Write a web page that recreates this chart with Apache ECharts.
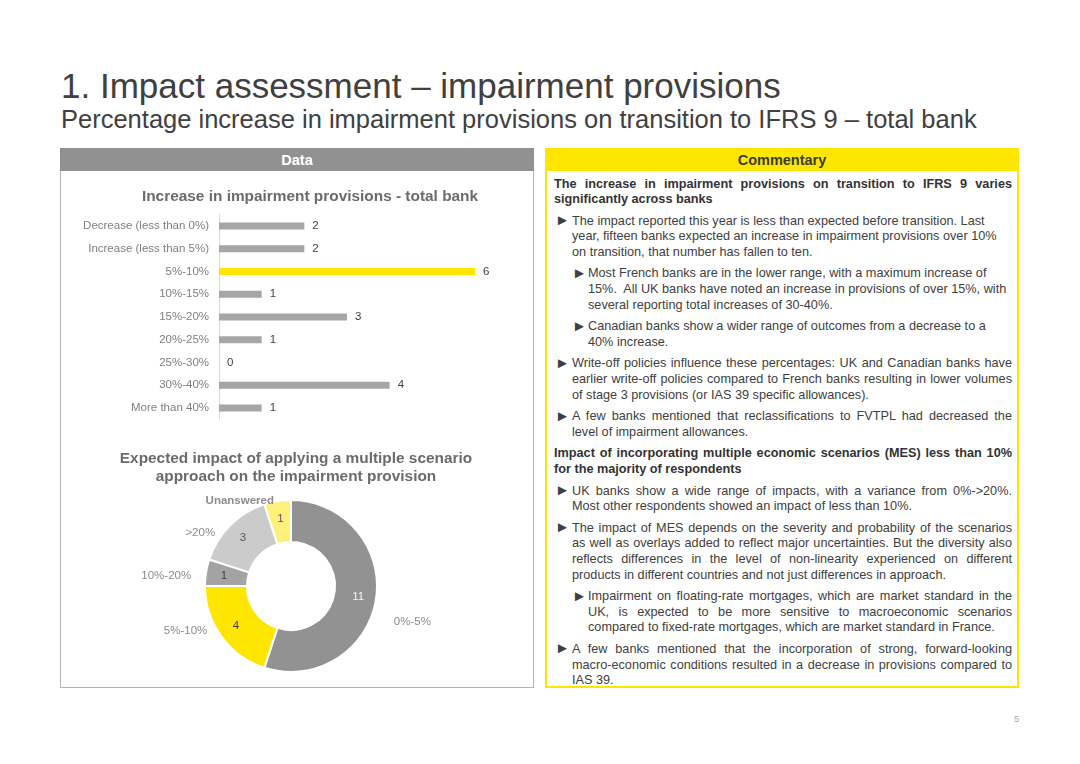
<!DOCTYPE html>
<html>
<head>
<meta charset="utf-8">
<script src="https://cdn.jsdelivr.net/npm/echarts@6/dist/echarts.min.js"></script>
<style>
  html, body { margin:0; padding:0; background:#fff; }
  body { width:1080px; height:764px; position:relative; overflow:hidden;
         font-family:'Liberation Sans', Arial, Helvetica, sans-serif; }
  .abs { position:absolute; }
  #title { left:61px; top:66px; font-size:35px; line-height:40px; color:#404040; white-space:nowrap; }
  #subtitle { left:61px; top:104px; font-size:25.5px; line-height:30px; color:#404040; white-space:nowrap; }
  #leftPanel { left:60px; top:148px; width:472px; height:539px; border:1px solid #b3b3b3; border-top:none; }
  #leftHead { left:60px; top:148px; width:474px; height:23px; background:#919191; color:#fff;
              font-weight:bold; font-size:14.5px; line-height:25px; text-align:center; }
  #rightPanel { left:545px; top:148px; width:470px; height:536px; border:2px solid #ffe600; }
  #rightHead { left:545px; top:148px; width:474px; height:23px; background:#ffe600; color:#3c3c3c;
               font-weight:bold; font-size:14.5px; line-height:25px; text-align:center; }
  #comm { left:554px; top:176.5px; width:458px; font-size:12.7px; line-height:15.6px; color:#404040; }
  #comm .p { position:relative; margin-top:6px; }
  #comm .p:first-child { margin-top:0; }
  #comm .h { font-weight:bold; color:#333; }
  #comm .b1 { padding-left:18px; }
  #comm .b2 { padding-left:34px; }
  #comm .bul { position:absolute; top:-1.5px; font-size:15px; line-height:15.6px; color:#404040; }
  #comm .b1 .bul { left:1px; }
  #comm .b2 .bul { left:18px; }
  #comm .j { display:block; text-align:justify; text-align-last:justify; }
  #comm .l { display:block; text-align:left; white-space:nowrap; }
  #pageNo { left:1014px; top:714px; font-size:9px; color:#a6a6a6; }
  #chart { position:absolute; left:0; top:0; width:1080px; height:764px; }
</style>
</head>
<body>
<div id="title" class="abs">1. Impact assessment – impairment provisions</div>
<div id="subtitle" class="abs">Percentage increase in impairment provisions on transition to IFRS 9 – total bank</div>

<div id="leftPanel" class="abs"></div>
<div id="leftHead" class="abs">Data</div>

<div id="rightPanel" class="abs"></div>
<div id="rightHead" class="abs">Commentary</div>

<div id="comm" class="abs">
  <div class="p h">
    <span class="j">The increase in impairment provisions on transition to IFRS 9 varies</span>
    <span class="l">significantly across banks</span>
  </div>
  <div class="p b1"><span class="bul">►</span>
    <span class="l">The impact reported this year is less than expected before transition. Last</span>
    <span class="l">year, fifteen banks expected an increase in impairment provisions over 10%</span>
    <span class="l">on transition, that number has fallen to ten.</span>
  </div>
  <div class="p b2"><span class="bul">►</span>
    <span class="l">Most French banks are in the lower range, with a maximum increase of</span>
    <span class="l">15%.&nbsp; All UK banks have noted an increase in provisions of over 15%, with</span>
    <span class="l">several reporting total increases of 30-40%.</span>
  </div>
  <div class="p b2"><span class="bul">►</span>
    <span class="l">Canadian banks show a wider range of outcomes from a decrease to a</span>
    <span class="l">40% increase.</span>
  </div>
  <div class="p b1"><span class="bul">►</span>
    <span class="j">Write-off policies influence these percentages: UK and Canadian banks have</span>
    <span class="j">earlier write-off policies compared to French banks resulting in lower volumes</span>
    <span class="l">of stage 3 provisions (or IAS 39 specific allowances).</span>
  </div>
  <div class="p b1"><span class="bul">►</span>
    <span class="j">A few banks mentioned that reclassifications to FVTPL had decreased the</span>
    <span class="l">level of impairment allowances.</span>
  </div>
  <div class="p h">
    <span class="j">Impact of incorporating multiple economic scenarios (MES) less than 10%</span>
    <span class="l">for the majority of respondents</span>
  </div>
  <div class="p b1"><span class="bul">►</span>
    <span class="j">UK banks show a wide range of impacts, with a variance from 0%-&gt;20%.</span>
    <span class="l">Most other respondents showed an impact of less than 10%.</span>
  </div>
  <div class="p b1"><span class="bul">►</span>
    <span class="j">The impact of MES depends on the severity and probability of the scenarios</span>
    <span class="j">as well as overlays added to reflect major uncertainties. But the diversity also</span>
    <span class="j">reflects differences in the level of non-linearity experienced on different</span>
    <span class="l">products in different countries and not just differences in approach.</span>
  </div>
  <div class="p b2"><span class="bul">►</span>
    <span class="j">Impairment on floating-rate mortgages, which are market standard in the</span>
    <span class="j">UK, is expected to be more sensitive to macroeconomic scenarios</span>
    <span class="l">compared to fixed-rate mortgages, which are market standard in France.</span>
  </div>
  <div class="p b1"><span class="bul">►</span>
    <span class="j">A few banks mentioned that the incorporation of strong, forward-looking</span>
    <span class="j">macro-economic conditions resulted in a decrease in provisions compared to</span>
    <span class="l">IAS 39.</span>
  </div>
</div>

<div id="pageNo" class="abs">5</div>
<div id="chart"></div>

<script>
// ---- Data ----
const barTitle = 'Increase in impairment provisions - total bank';
const barCategories = ['Decrease (less than 0%)', 'Increase (less than 5%)', '5%-10%', '10%-15%', '15%-20%', '20%-25%', '25%-30%', '30%-40%', 'More than 40%'];
const barValues = [2, 2, 6, 1, 3, 1, 0, 4, 1];
const barHighlight = '5%-10%';

const pieTitle = 'Expected impact of applying a multiple scenario\napproach on the impairment provision';
const pieCategories = ['0%-5%', '5%-10%', '10%-20%', '>20%', 'Unanswered'];
const pieValues = [11, 4, 1, 3, 1];

// ---- Styles ----
const FONT = "'Liberation Sans', Arial, Helvetica, sans-serif";
const pieColors = ['#929292', '#ffe600', '#a3a3a3', '#cbcbcb', '#fff07c'];
const pieInnerLabelColors = ['#f4f4f4', '#404040', '#404040', '#595959', '#595959'];
const pieOuterNudges = [[3, 21], [-1, -12], [0, 5], [-3, 15], [3, 10]];

const chart = echarts.init(document.getElementById('chart'), null, { renderer: 'canvas' });

const option = {
  backgroundColor: 'transparent',
  animation: false,
  title: [
    {
      text: barTitle, left: 310, top: 188, textAlign: 'center', padding: 0,
      textStyle: { fontFamily: FONT, fontSize: 15.4, fontWeight: 'bold', color: '#6b6b6b', lineHeight: 18 }
    },
    {
      text: pieTitle, left: 296, top: 450, textAlign: 'center', padding: 0,
      textStyle: { fontFamily: FONT, fontSize: 15.4, fontWeight: 'bold', color: '#6b6b6b', lineHeight: 18 }
    }
  ],
  grid: {
    left: 219, top: 214.5, width: 256, height: 204.8,
    containLabel: false, outerBoundsMode: 'none'
  },
  xAxis: {
    type: 'value', min: 0, max: 6, show: false,
    splitLine: { show: false }
  },
  yAxis: {
    type: 'category', data: barCategories, inverse: true,
    axisLine: { show: true, lineStyle: { color: '#d9d9d9', width: 1 } },
    axisTick: { show: false },
    splitLine: { show: false },
    axisLabel: { fontFamily: FONT, fontSize: 11.5, color: '#7f7f7f', margin: 10 }
  },
  series: [
    {
      type: 'bar',
      barWidth: 7,
      data: barValues.map((v, i) => ({
        value: v,
        itemStyle: { color: barCategories[i] === barHighlight ? '#ffe600' : '#a6a6a6' }
      })),
      label: {
        show: true, position: 'right', distance: 8,
        fontFamily: FONT, fontSize: 11.5, color: '#404040'
      },
      silent: true
    },
    {
      type: 'pie',
      center: [291, 586],
      radius: [44, 86],
      startAngle: 90,
      clockwise: true,
      avoidLabelOverlap: false,
      silent: true,
      itemStyle: { borderColor: '#ffffff', borderWidth: 2 },
      label: { show: true, position: 'inside', fontFamily: FONT, fontSize: 11.5 },
      labelLine: { show: false },
      data: pieCategories.map((c, i) => ({
        name: c, value: pieValues[i],
        itemStyle: { color: pieColors[i] },
        label: { color: pieInnerLabelColors[i], formatter: '{c}' }
      }))
    },
    {
      type: 'pie',
      center: [291, 586],
      radius: [44, 86],
      startAngle: 90,
      clockwise: true,
      avoidLabelOverlap: false,
      silent: true,
      itemStyle: { color: 'rgba(0,0,0,0)', borderWidth: 0 },
      label: {
        show: true, position: 'outside', fontFamily: FONT, fontSize: 11.5,
        color: '#8c8c8c', formatter: '{b}', distanceToLabelLine: 5
      },
      labelLine: { show: false, length: 10, length2: 0 },
      labelLayout: function (params) {
        const n = pieOuterNudges[params.dataIndex] || [0, 0];
        return { dx: n[0], dy: n[1] };
      },
      data: pieCategories.map((c, i) => ({
        name: c, value: pieValues[i],
        label: c === 'Unanswered' ? { fontWeight: 'bold' } : {}
      }))
    }
  ]
};

chart.setOption(option);
</script>
</body>
</html>
